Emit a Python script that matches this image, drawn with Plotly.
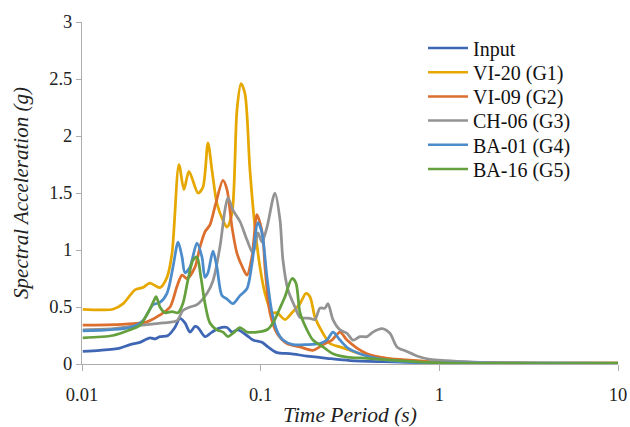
import plotly.graph_objects as go

# ---- data (period in s, spectral acceleration in g) ----
input_T = [0.0101, 0.0126, 0.0163, 0.0186, 0.0211, 0.0240, 0.0256, 0.0273, 0.0303, 0.0331, 0.0353,
           0.0377, 0.0402, 0.0429, 0.0446, 0.0488, 0.0534, 0.0577, 0.0648, 0.0691, 0.0747, 0.0838,
           0.0906, 0.1017, 0.1099, 0.1234, 0.1459, 0.1816, 0.2350, 0.3160, 0.4835, 1.0, 10.0]
input_SA = [0.11, 0.12, 0.14, 0.17, 0.19, 0.23, 0.22, 0.24, 0.25, 0.32, 0.40,
            0.36, 0.28, 0.33, 0.32, 0.24, 0.28, 0.31, 0.32, 0.28, 0.30, 0.25,
            0.21, 0.19, 0.15, 0.10, 0.09, 0.07, 0.05, 0.03, 0.02, 0.01, 0.005]

g1_T = [0.0101, 0.0126, 0.0149, 0.0170, 0.0198, 0.0219, 0.0240, 0.0273, 0.0299, 0.0319, 0.0349,
        0.0372, 0.0397, 0.0446, 0.0475, 0.0507, 0.0534, 0.0569, 0.0615, 0.0648, 0.0691, 0.0737,
        0.0776, 0.0817, 0.0871, 0.0929, 0.0991, 0.1057, 0.1157, 0.1234, 0.1368, 0.1497, 0.1660,
        0.1793, 0.1888, 0.2013, 0.2232, 0.2443, 0.2779, 0.3160, 0.3595, 0.4250, 0.5091, 0.6018,
        1.0, 2.0, 10.0]
g1_SA = [0.48, 0.475, 0.48, 0.53, 0.65, 0.67, 0.71, 0.67, 0.76, 0.97, 1.75,
         1.53, 1.69, 1.50, 1.55, 1.94, 1.70, 1.41, 1.26, 1.20, 1.32, 2.23,
         2.46, 2.37, 1.70, 1.20, 0.85, 0.62, 0.45, 0.45, 0.39, 0.45, 0.53,
         0.62, 0.59, 0.41, 0.27, 0.18, 0.15, 0.12, 0.09, 0.07, 0.05, 0.035,
         0.02, 0.01, 0.01]

g2_T = [0.0101, 0.0231, 0.0273, 0.0311, 0.0340, 0.0363, 0.0387, 0.0429, 0.0458, 0.0488, 0.0520,
        0.0555, 0.0615, 0.0648, 0.0691, 0.0737, 0.0796, 0.0838, 0.0894, 0.0953, 0.0991, 0.1030,
        0.1057, 0.1127, 0.1234, 0.1404, 0.1660, 0.1962, 0.2232, 0.2506, 0.2779, 0.3041, 0.3458,
        0.4089, 0.5091, 0.6018, 1.0, 10.0]
g2_SA = [0.34, 0.37, 0.43, 0.50, 0.68, 0.78, 0.75, 0.85, 1.03, 1.16, 1.22,
         1.38, 1.61, 1.53, 1.20, 0.97, 0.84, 0.78, 0.94, 1.31, 1.24, 1.11,
         0.85, 0.45, 0.27, 0.18, 0.15, 0.12, 0.17, 0.21, 0.28, 0.21, 0.14,
         0.08, 0.05, 0.04, 0.015, 0.005]

g3_T = [0.0101, 0.0150, 0.0186, 0.0284, 0.0340, 0.0367, 0.0402, 0.0440, 0.0501, 0.0541, 0.0592,
        0.0631, 0.0656, 0.0700, 0.0766, 0.0838, 0.0906, 0.0966, 0.1017, 0.1085, 0.1202, 0.1282,
        0.1333, 0.1422, 0.1556, 0.1660, 0.1888, 0.2013, 0.2147, 0.2290, 0.2381, 0.2539, 0.2779,
        0.3041, 0.3285, 0.3595, 0.3935, 0.4250, 0.4773, 0.5290, 0.5791, 0.6587, 0.7493, 0.8860,
        1.103, 1.688, 3.0, 10.0]
g3_SA = [0.30, 0.31, 0.33, 0.36, 0.38, 0.47, 0.50, 0.52, 0.62, 0.73, 1.03,
         1.35, 1.46, 1.35, 1.25, 1.09, 0.97, 1.15, 1.07, 1.20, 1.50, 1.27,
         0.91, 0.65, 0.50, 0.41, 0.40, 0.39, 0.49, 0.49, 0.53, 0.39, 0.30,
         0.27, 0.21, 0.24, 0.24, 0.28, 0.31, 0.27, 0.15, 0.11, 0.07, 0.04,
         0.03, 0.015, 0.01, 0.01]

g4_T = [0.0101, 0.0186, 0.0219, 0.0250, 0.0273, 0.0299, 0.0323, 0.0345, 0.0363, 0.0377, 0.0402,
        0.0440, 0.0469, 0.0488, 0.0507, 0.0541, 0.0569, 0.0607, 0.0648, 0.0700, 0.0766, 0.0838,
        0.0894, 0.0966, 0.1017, 0.1085, 0.1157, 0.1250, 0.1333, 0.1516, 0.1816, 0.2147, 0.2350,
        0.2539, 0.2779, 0.3080, 0.3595, 0.4476, 0.6018, 1.0, 10.0]
g4_SA = [0.29, 0.32, 0.38, 0.52, 0.54, 0.62, 0.85, 1.07, 0.94, 0.80, 0.85,
         1.06, 0.94, 0.76, 0.80, 0.99, 0.85, 0.60, 0.57, 0.53, 0.60, 0.66,
         0.88, 1.24, 1.15, 0.76, 0.45, 0.27, 0.21, 0.17, 0.17, 0.18, 0.21,
         0.28, 0.21, 0.14, 0.09, 0.05, 0.02, 0.01, 0.005]

g5_T = [0.0101, 0.0149, 0.0186, 0.0211, 0.0234, 0.0250, 0.0260, 0.0273, 0.0291, 0.0319, 0.0345,
        0.0367, 0.0392, 0.0418, 0.0440, 0.0463, 0.0488, 0.0520, 0.0569, 0.0615, 0.0656, 0.0700,
        0.0766, 0.0838, 0.0953, 0.1085, 0.1172, 0.1282, 0.1368, 0.1497, 0.1576, 0.1660, 0.1816,
        0.1962, 0.2232, 0.2539, 0.3041, 0.3935, 0.6018, 1.0, 10.0]
g5_SA = [0.23, 0.25, 0.30, 0.34, 0.45, 0.54, 0.59, 0.50, 0.45, 0.46, 0.45,
         0.53, 0.74, 0.91, 0.94, 0.76, 0.53, 0.36, 0.30, 0.28, 0.24, 0.27,
         0.32, 0.28, 0.28, 0.30, 0.36, 0.49, 0.59, 0.75, 0.71, 0.45, 0.30,
         0.21, 0.15, 0.09, 0.06, 0.05, 0.03, 0.01, 0.005]

names = ["Input", "VI-20 (G1)", "VI-09 (G2)", "CH-06 (G3)", "BA-01 (G4)", "BA-16 (G5)"]
colors = ["#3F66B4", "#E6A800", "#DC6E2E", "#939393", "#4C8CCB", "#64A03E"]
series = [(input_T, input_SA), (g1_T, g1_SA), (g2_T, g2_SA),
          (g3_T, g3_SA), (g4_T, g4_SA), (g5_T, g5_SA)]

serif = "Liberation Serif"
W, H = 630, 427
ML, MR, MT, MB = 82, 12, 22, 63
PW, PH = W - ML - MR, H - MT - MB

fig = go.Figure()
for (t, sa), name, col in zip(series, names, colors):
    fig.add_trace(go.Scatter(x=t, y=sa, mode="lines", name=name, showlegend=False,
                             line=dict(color=col, width=2.75, shape="spline", smoothing=0.8)))

# legend (drawn in paper coordinates to match the compact Excel-style spacing)
shapes, annots = [], []
for i, (name, col) in enumerate(zip(names, colors)):
    yc = 48 + i * 24.2                      # row centre, pixels from top of figure
    yp = (H - MB - yc) / PH                 # to paper coordinates
    shapes.append(dict(type="line", xref="paper", yref="paper",
                       x0=(428 - ML) / PW, x1=(468 - ML) / PW, y0=yp, y1=yp,
                       line=dict(color=col, width=2.5)))
    annots.append(dict(text=name, xref="paper", yref="paper", x=(471 - ML) / PW, y=yp - 0.004,
                       xanchor="left", yanchor="middle", showarrow=False,
                       font=dict(family=serif, size=20, color="#111111")))

fig.update_layout(
    width=W, height=H,
    margin=dict(l=ML, r=MR, t=MT, b=MB),
    paper_bgcolor="white", plot_bgcolor="white",
    font=dict(family=serif, size=18, color="#222222"),
    showlegend=False,
    shapes=shapes, annotations=annots,
)
fig.update_xaxes(type="log", range=[-2, 1], automargin=False,
                 tickvals=[0.01, 0.1, 1, 10], ticktext=["0.01", "0.1", "1", "10"],
                 showgrid=False, zeroline=False,
                 showline=True, linecolor="#ADADAD", linewidth=1,
                 ticks="outside", ticklen=6, tickcolor="#ADADAD",
                 ticklabelstandoff=8,
                 tickfont=dict(family=serif, size=18.5, color="#222222"),
                 title=dict(text="<i>Time Period (s)</i>", standoff=3,
                            font=dict(family=serif, size=21.5, color="#222222")))
fig.update_yaxes(range=[0, 3], dtick=0.5, automargin=False,
                 showgrid=False, zeroline=False,
                 showline=True, linecolor="#ADADAD", linewidth=1,
                 ticks="outside", ticklen=5, tickcolor="#ADADAD",
                 tickfont=dict(family=serif, size=18.5, color="#222222"),
                 title=dict(text="<i>Spectral Acceleration (g)</i>", standoff=14,
                            font=dict(family=serif, size=21, color="#222222")))

fig.write_html("out.html",
               config={"displayModeBar": False, "staticPlot": True},
               post_script="document.body.style.margin='0';document.body.style.overflow='hidden';")
